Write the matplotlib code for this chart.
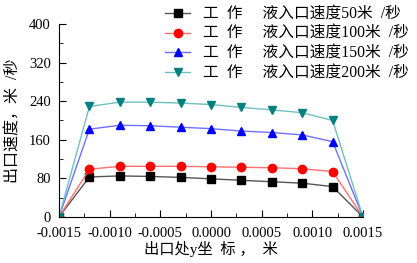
import numpy as np
import matplotlib.pyplot as plt
from matplotlib.ticker import MultipleLocator, FormatStrFormatter

plt.rcParams['font.family'] = ['Liberation Serif', 'Noto Sans CJK SC']
plt.rcParams['axes.unicode_minus'] = False

# y position (m)
y_pos = [-0.0015, -0.0012, -0.0009, -0.0006, -0.0003, 0.0, 0.0003, 0.0006, 0.0009, 0.0012, 0.0015]

# outlet velocity (m/s) per inlet velocity
v50 = [0, 83, 85, 84, 82, 79, 76, 73, 70, 63, 0]
v100 = [0, 99, 105, 105, 105, 104, 103, 102, 100, 94, 0]
v150 = [0, 182, 190, 189, 186, 183, 178, 175, 170, 156, 0]
v200 = [0, 229, 238, 238, 236, 233, 227, 222, 216, 200, 0]

labels = ['工  作     液入口速度50米  /秒',
          '工  作     液入口速度100米  /秒',
          '工  作     液入口速度150米  /秒',
          '工  作     液入口速度200米  /秒']

fig = plt.figure(figsize=(4.17, 2.63), dpi=100)
ax = fig.add_axes([0.1415, 0.175, 0.729, 0.734])

styles = [('s', 'black', '#555555'),
          ('o', 'red', '#ff7070'),
          ('^', 'blue', '#7070ff'),
          ('v', '#008080', '#70c0c0')]

for vals, lab, (mk, mc, lc) in zip([v50, v100, v150, v200], labels, styles):
    ax.plot(y_pos, vals, color=lc, lw=1, marker=mk, markersize=6,
            markerfacecolor=mc, markeredgecolor=mc, label=lab)

ax.set_xlim(-0.0015, 0.0015)
ax.set_ylim(0, 400)
ax.xaxis.set_major_locator(MultipleLocator(0.0005))
ax.xaxis.set_minor_locator(MultipleLocator(0.00025))
ax.xaxis.set_major_formatter(FormatStrFormatter('%.4f'))
ax.yaxis.set_major_locator(MultipleLocator(80))
ax.yaxis.set_minor_locator(MultipleLocator(40))
ax.spines['top'].set_visible(False)
ax.spines['right'].set_visible(False)
ax.tick_params(which='both', direction='in', labelsize=10.5)
ax.tick_params(which='major', length=5)
ax.tick_params(which='minor', length=3)
ax.tick_params(axis='x', pad=7)
ax.tick_params(axis='y', pad=6)

ax.set_xlabel('出口处y坐  标 ，  米', fontsize=11, labelpad=1)
ax.set_ylabel('出口速度，米  /秒', fontsize=11.5, labelpad=5)

ax.legend(loc='upper left', bbox_to_anchor=(0.392, 0.982),
          bbox_transform=fig.transFigure, frameon=False,
          fontsize=11.3, handlelength=1.6, labelspacing=0.24, borderaxespad=0,
          borderpad=0.1, handletextpad=0.8)

fig.savefig('out.png', dpi=100)
